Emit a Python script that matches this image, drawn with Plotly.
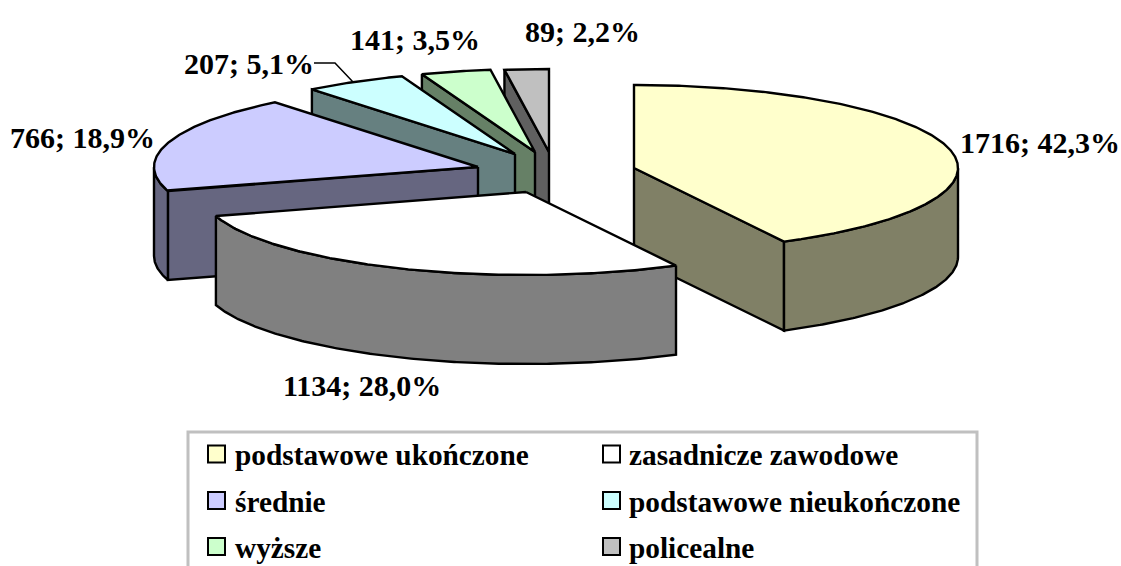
import numpy as np
import plotly.graph_objects as go

categories = ["podstawowe ukończone", "zasadnicze zawodowe", "średnie",
              "podstawowe nieukończone", "wyższe", "policealne"]
values = [1716, 1134, 766, 207, 141, 89]
top_colors = ["#FFFFCC", "#FFFFFF", "#CCCCFF", "#CCFFFF", "#CCFFCC", "#C0C0C0"]
wall_colors = ["#808066", "#808080", "#666680", "#668080", "#668066", "#606060"]
centers = [(634, 168), (526, 192), (478, 167), (515, 154), (535, 152), (549, 152)]
label_pos = [(1040, 142), (362, 385), (82, 137), (249, 63), (415, 39), (582, 31)]
legend_key_pos = [(216.5, 454), (611.5, 454), (216.5, 500.5), (611.5, 500.5), (216.5, 546.5), (611.5, 546.5)]
legend_text_pos = [(234, 455), (628, 455), (234, 502), (628, 502), (234, 548), (628, 548)]
draw_order = [5, 4, 3, 2, 0, 1]

RX, RY, DEPTH = 324, 83, 89
FONT = "Liberation Serif"
total = sum(values)
cum = np.concatenate([[0], np.cumsum(values)]) / total * 360


def rim(cx, cy, a0, a1, dy=0):
    t = np.radians(np.linspace(a0, a1, int(abs(a1 - a0) * 2) + 2))
    return cx + RX * np.sin(t), cy - RY * np.cos(t) + dy


def poly(xs, ys, fill, name):
    return go.Scatter(x=list(xs), y=list(ys), mode="lines", fill="toself", fillcolor=fill,
                      line=dict(color="black", width=2.4), hoverinfo="name", name=name,
                      showlegend=False)


fig = go.Figure()


def cut_wall(cx, cy, a, fill, name):
    x, y = rim(cx, cy, a, a)
    return poly([cx, x[0], x[0], cx, cx], [cy, y[0], y[0] + DEPTH, cy + DEPTH, cy], fill, name)


for i in draw_order:
    cx, cy = centers[i]
    a0, a1 = cum[i], cum[i + 1]
    name = categories[i]
    if a0 >= 180:
        fig.add_trace(cut_wall(cx, cy, a0, wall_colors[i], name))
    if a1 <= 180:
        fig.add_trace(cut_wall(cx, cy, a1, wall_colors[i], name))
    b0, b1 = max(a0, 90), min(a1, 270)
    if b1 > b0:
        xu, yu = rim(cx, cy, b0, b1)
        xl, yl = rim(cx, cy, b1, b0, DEPTH)
        fig.add_trace(poly(np.r_[xu, xl, xu[0]], np.r_[yu, yl, yu[0]], wall_colors[i], name))
    xr, yr = rim(cx, cy, a0, a1)
    fig.add_trace(poly(np.r_[cx, xr, cx], np.r_[cy, yr, cy], top_colors[i], name))

# leader line of the 207 label
fig.add_trace(go.Scatter(x=[314, 335, 353], y=[63, 63, 82], mode="lines",
                         line=dict(color="black", width=1.5), hoverinfo="skip", showlegend=False))

# legend keys
fig.add_trace(go.Scatter(
    x=[p[0] for p in legend_key_pos], y=[p[1] for p in legend_key_pos], mode="markers",
    marker=dict(symbol="square", size=17, color=top_colors, line=dict(color="black", width=2)),
    hoverinfo="skip", showlegend=False, cliponaxis=False))

annotations = []
for v, (x, y) in zip(values, label_pos):
    txt = f"{v}; {v / total * 100:.1f}%".replace(".", ",")
    annotations.append(dict(x=x, y=y, xref="x", yref="y", text=f"<b>{txt}</b>", showarrow=False,
                            xanchor="center", yanchor="middle",
                            font=dict(family=FONT, size=30, color="black")))
for c, (x, y) in zip(categories, legend_text_pos):
    annotations.append(dict(x=x, y=y, xref="x", yref="y", text=f"<b>{c}</b>", showarrow=False,
                            xanchor="left", yanchor="middle", xshift=-1,
                            font=dict(family=FONT, size=29.3, color="black")))

fig.update_layout(
    width=1121, height=566, margin=dict(l=0, r=0, t=0, b=0),
    paper_bgcolor="white", plot_bgcolor="white", showlegend=False,
    xaxis=dict(range=[0, 1121], visible=False, fixedrange=True),
    yaxis=dict(range=[566, 0], visible=False, fixedrange=True),
    annotations=annotations,
    shapes=[dict(type="path", path="M 188 570 L 188 432 L 977 432 L 977 570", xref="x", yref="y",
                 line=dict(color="#C0C0C0", width=3), layer="below")],
)
fig.write_html("out.html", config={"displayModeBar": False},
               post_script="document.body.style.margin='0';document.documentElement.style.overflow='hidden';")
